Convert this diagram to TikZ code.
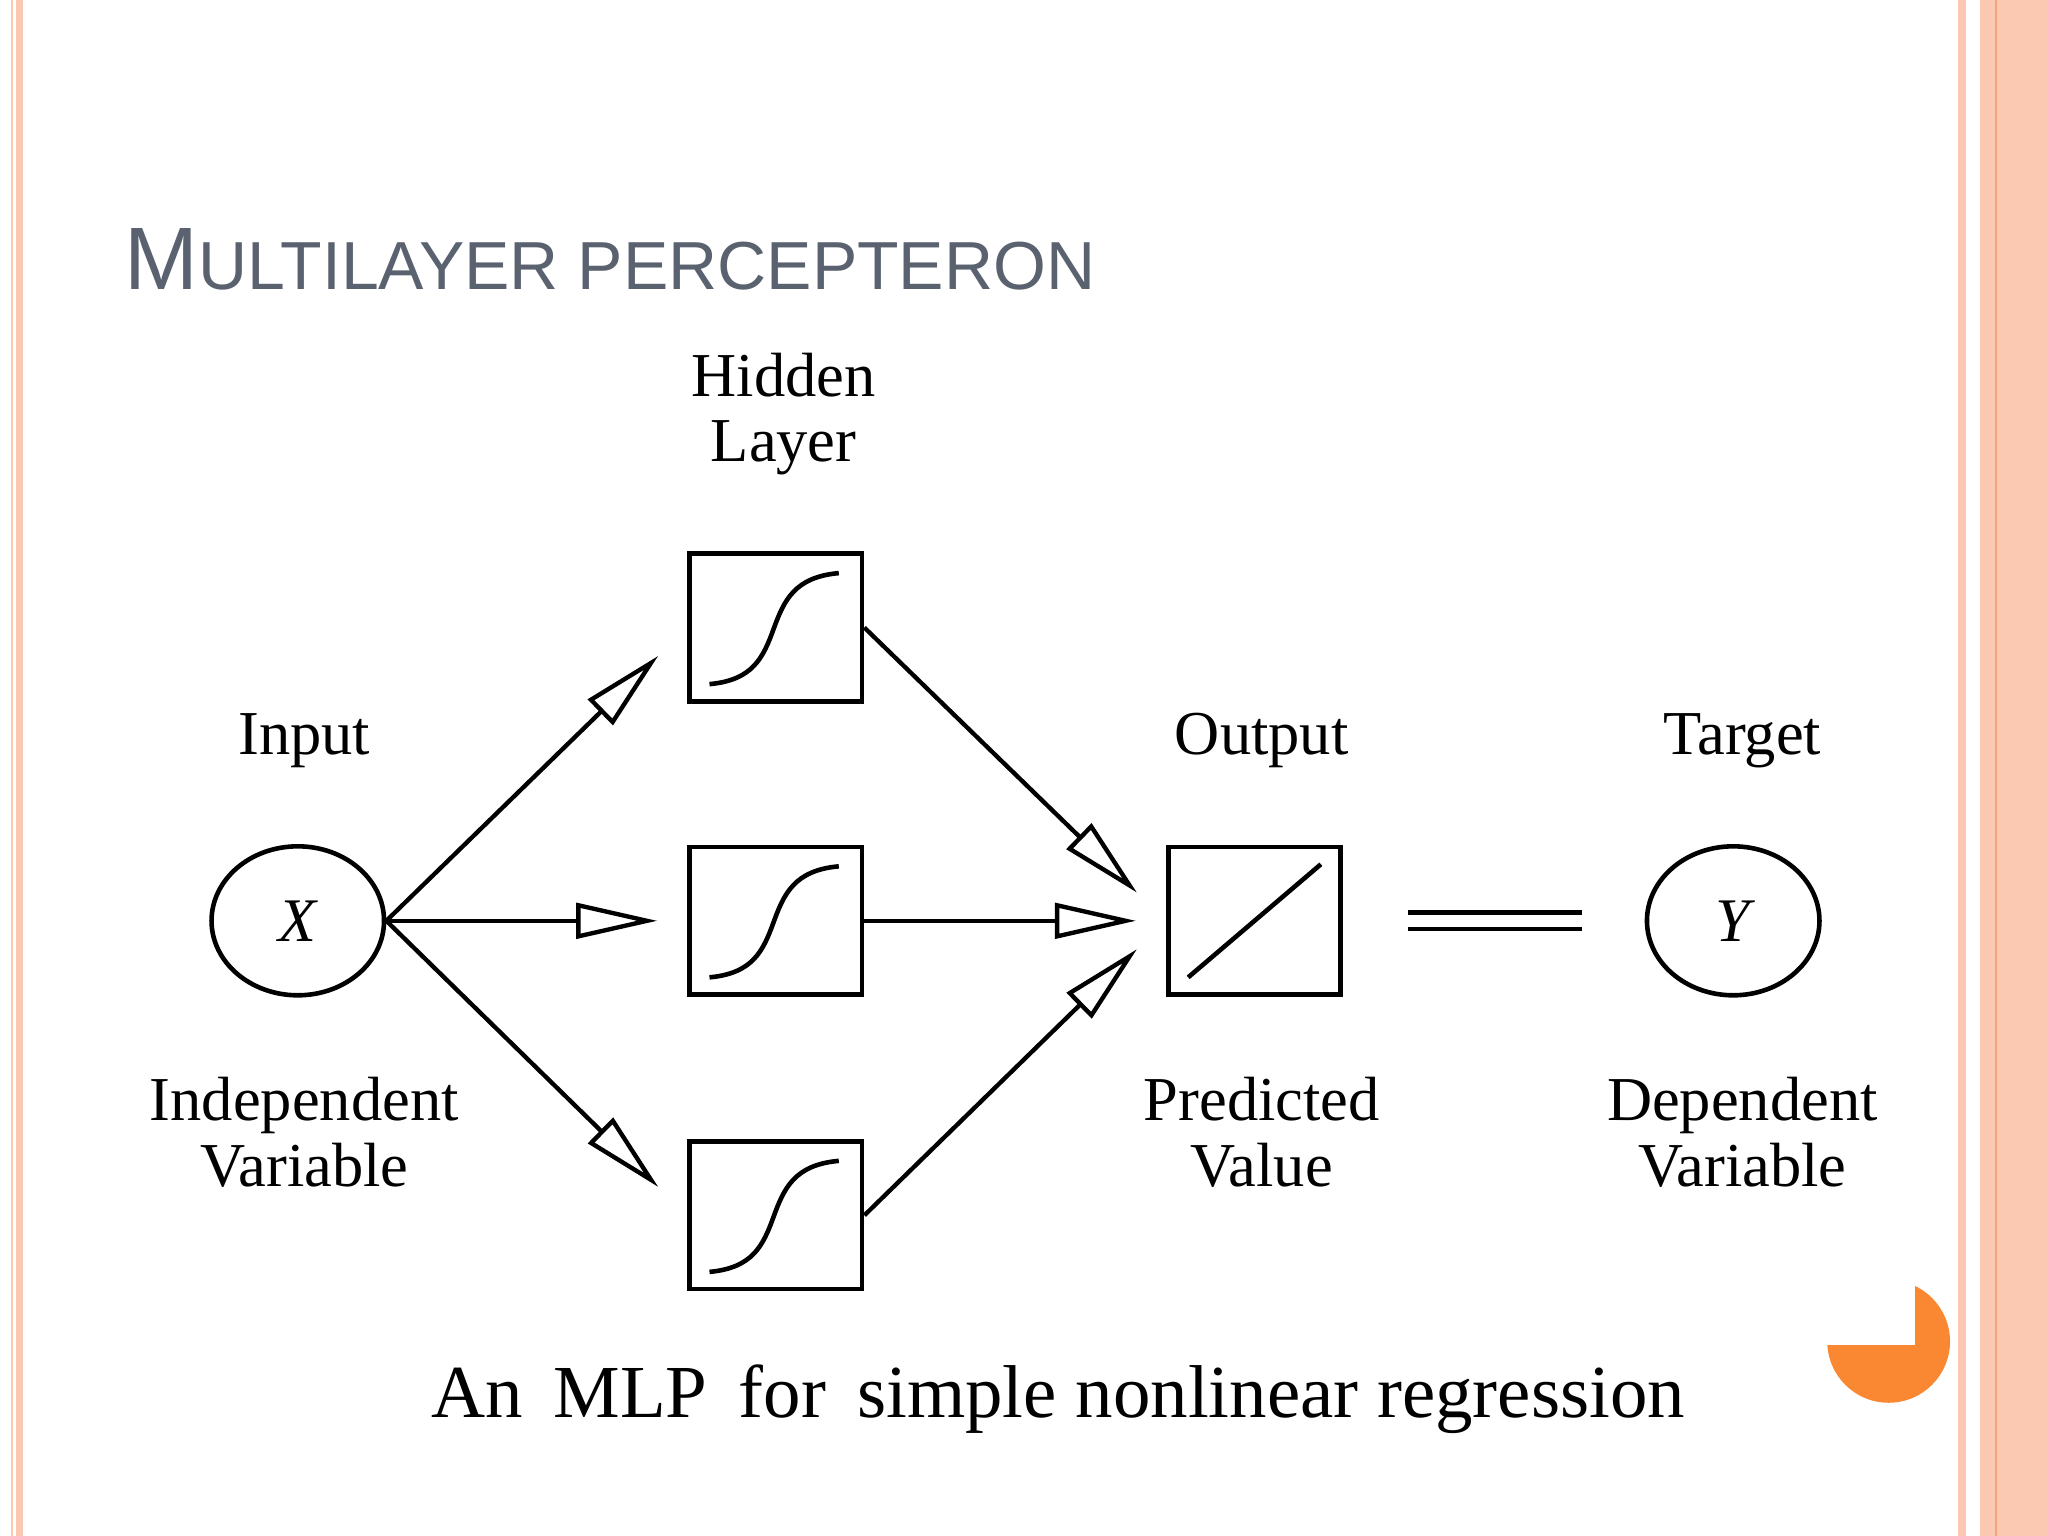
\documentclass[tikz,border=0pt]{standalone}
\usepackage{fontspec}
\setmainfont{Liberation Serif}
\newfontfamily\titlefont{Liberation Sans}
\usetikzlibrary{arrows.meta,shapes.geometric}
\definecolor{stripe}{HTML}{FBC8B2}
\definecolor{stripedark}{HTML}{F7A27E}
\definecolor{titlegray}{HTML}{5A6270}
\definecolor{orangec}{HTML}{FA8833}
\begin{document}
\begin{tikzpicture}[x=0.01cm,y=-0.01cm,
  box/.style={draw,line width=1pt,minimum width=1.32cm,minimum height=1.13cm,inner sep=0},
  circ/.style={draw,ellipse,line width=1pt,minimum width=1.32cm,minimum height=1.14cm,inner sep=0},
  conn/.style={line width=0.95pt,-{Triangle[open,length=0.62cm,width=0.27cm,line width=0.95pt]}},
  lbl/.style={font=\fontsize{13.6}{14.3}\selectfont,align=center}]
\useasboundingbox (0,0) rectangle (1568,1176);
\fill[white] (0,0) rectangle (1568,1176);
% borders
\fill[stripe] (8.5,0) rectangle (10,1176);
\fill[stripe] (12,0) rectangle (17.6,1176);
\fill[stripe] (1499,0) rectangle (1505,1176);
\fill[stripe] (1516,0) rectangle (1568,1176);
\fill[stripedark] (1527.5,0) rectangle (1529,1176);
% page number badge
\fill[orangec] (1446,1027) circle (47);
\fill[white] (1390,965) rectangle (1466,1030);
% title
\node[anchor=base west,text=titlegray,font=\titlefont\fontsize{19.3}{22}\selectfont,inner sep=0] (title) at (95,222) {M\fontsize{14.8}{18}\selectfont ULTILAYER PERCEPTERON};
% nodes
\node[circ] (x) at (228,705) {\fontsize{13.5}{15}\selectfont\itshape X};
\node[circ] (y) at (1327,705) {\fontsize{13.5}{15}\selectfont\itshape Y};
\node[box] (h1) at (594,480.5) {};
\node[box] (h2) at (594,705) {};
\node[box] (h3) at (594,930.5) {};
\node[box] (o) at (960.5,705) {};
\foreach \h in {h1,h2,h3}{
  \draw[line width=1pt] ([shift={(17,-15)}]\h.south west) .. controls ([shift={(50,-18)}]\h.south west) and ([shift={(58,-35)}]\h.south west) .. ([shift={(66,-57)}]\h.south west) .. controls ([shift={(74,-79)}]\h.south west) and ([shift={(82,-97)}]\h.south west) .. ([shift={(116,-100)}]\h.south west);
}
\draw[line width=1pt] ([shift={(17,-15)}]o.south west) -- ([shift={(-17,15)}]o.north east);
% connectors
\draw[conn,shorten >=0.31cm] (x.east) -- (h1.west);
\draw[conn,shorten >=0.23cm] (x.east) -- (h2.west);
\draw[conn,shorten >=0.31cm] (x.east) -- (h3.west);
\draw[conn,shorten >=0.31cm] (h1.east) -- (o.west);
\draw[conn,shorten >=0.23cm] (h2.east) -- (o.west);
\draw[conn,shorten >=0.31cm] (h3.east) -- (o.west);
\coordinate (e1) at (1078,705);
\coordinate (e2) at (1211,705);
\draw[line width=1pt,double distance=2.5pt] (e1) -- (e2);
% labels
\node[lbl] (lh) at (600,317) {Hidden\\Layer};
\node[lbl] (li) at (233,567) {Input};
\node[lbl] (lo) at (966,567) {Output};
\node[lbl] (lt) at (1334,567) {Target};
\node[lbl] (lid) at (233,867) {Independent\\Variable};
\node[lbl] (lp) at (966,867) {Predicted\\Value};
\node[lbl] (ld) at (1334,867) {Dependent\\Variable};
\node[font=\fontsize{16.3}{20}\selectfont] (cap) at (810,1071) {An \,MLP \,for \,simple nonlinear regression};
\end{tikzpicture}
\end{document}
